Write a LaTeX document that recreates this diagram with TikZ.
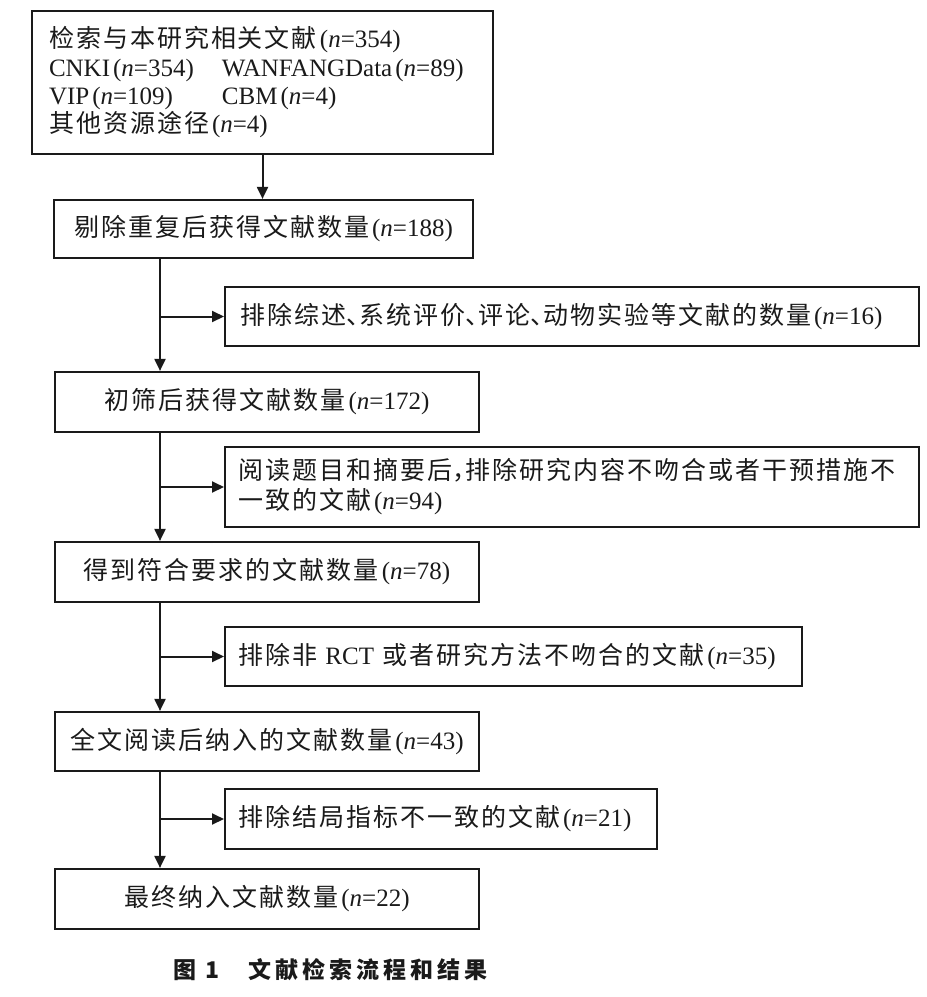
\documentclass[tikz,border=0pt]{standalone}
\usepackage{fontspec}
\setmainfont{Liberation Serif}
\newfontfamily\cjk[LetterSpace=8]{Noto Sans CJK SC}
\newfontfamily\cjkcap{Noto Sans CJK SC}
\usetikzlibrary{arrows.meta}
\definecolor{linec}{HTML}{1A1A1A}
\newcommand\nn[1]{\kern3pt(\textit{n}=#1)}
\newcommand\dn{\makebox[.52em][l]{、}}
\newcommand\hc{\makebox[.52em][l]{，}}
\tikzset{
  boxfont/.style={font=\fontsize{25}{28.3}\selectfont, text=linec},
  mainbox/.style={boxfont, draw=linec, line width=2.2pt, minimum width=424pt, minimum height=60pt, inner sep=0pt},
  sidebox/.style={boxfont, draw=linec, line width=2.2pt, inner xsep=13pt, inner ysep=0pt, align=left, anchor=west},
  arr/.style={draw=linec, line width=2pt, -{Triangle[length=12pt,width=11pt]}}
}
\begin{document}
\begin{tikzpicture}[x=1pt,y=-1pt]
\useasboundingbox (0,0) rectangle (927,997);
\node[boxfont, draw=linec, line width=2.2pt, minimum width=461pt, minimum height=143pt,
      text width=427pt, inner xsep=17pt, inner ysep=0pt, align=left] (b1) at (262.5,82.5)
  {{\cjk 检索与本研究相关文献}\nn{354}\\
   \makebox[173pt][l]{CNKI\nn{354}}WANFANGData\nn{89}\\
   \makebox[173pt][l]{VIP\nn{109}}CBM\nn{4}\\
   {\cjk 其他资源途径}\nn{4}};
\node[mainbox, minimum width=419pt, minimum height=58pt] (b2) at (263.5,229) {{\cjk 剔除重复后获得文献数量}\nn{188}};
\node[sidebox, text width=664pt, inner xsep=15pt, minimum height=59pt] (s1) at (224,316.5)
  {{\cjk 排除综述\dn 系统评价\dn 评论\dn 动物实验等文献的数量}\nn{16}};
\node[mainbox] (b3) at (267,402) {{\cjk 初筛后获得文献数量}\nn{172}};
\node[sidebox, text width=668pt, minimum height=80pt, font=\fontsize{25}{30}\selectfont] (s2) at (224,487)
  {{\cjk 阅读题目和摘要后\hc 排除研究内容不吻合或者干预措施不}\\{\cjk 一致的文献}\nn{94}};
\node[mainbox] (b4) at (267,572) {{\cjk 得到符合要求的文献数量}\nn{78}};
\node[sidebox, text width=551pt, minimum height=59pt] (s3) at (224,656.5)
  {{\cjk 排除非} RCT {\cjk 或者研究方法不吻合的文献}\nn{35}};
\node[mainbox, minimum height=59pt] (b5) at (267,741.5) {{\cjk 全文阅读后纳入的文献数量}\nn{43}};
\node[sidebox, text width=406pt, minimum height=60pt] (s4) at (224,819)
  {{\cjk 排除结局指标不一致的文献}\nn{21}};
\node[mainbox] (b6) at (267,899) {{\cjk 最终纳入文献数量}\nn{22}};
\node[anchor=west, inner sep=0pt, text=linec, font=\fontsize{23}{26}\selectfont] (cap) at (173,970)
  {\cjkcap\bfseries 图\kern9pt 1\kern29pt 文\kern4pt 献\kern4pt 检\kern4pt 索\kern4pt 流\kern4pt 程\kern4pt 和\kern4pt 结\kern4pt 果};
\coordinate (tx) at (160,0);
\draw[arr] (b1.south) -- (b1.south |- b2.north);
\draw[arr] (b2.south -| tx) -- (b3.north -| tx);
\draw[arr] (s1.west -| tx) -- (s1.west);
\draw[arr] (b3.south -| tx) -- (b4.north -| tx);
\draw[arr] (s2.west -| tx) -- (s2.west);
\draw[arr] (b4.south -| tx) -- (b5.north -| tx);
\draw[arr] (s3.west -| tx) -- (s3.west);
\draw[arr] (b5.south -| tx) -- (b6.north -| tx);
\draw[arr] (s4.west -| tx) -- (s4.west);
\end{tikzpicture}
\end{document}
